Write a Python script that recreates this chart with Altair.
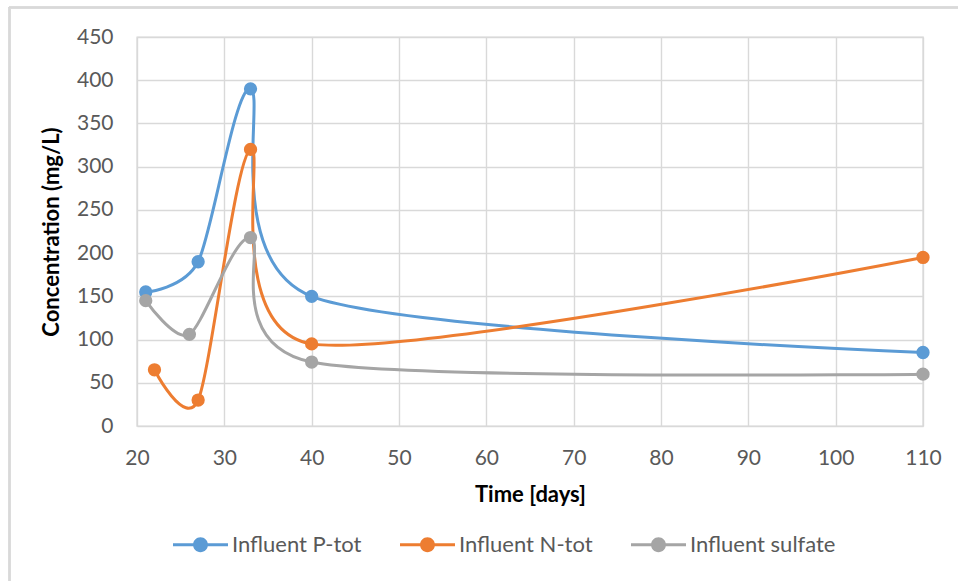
import altair as alt
import pandas as pd

# Influent concentrations over time
p_days = [21, 27, 33, 40, 110]
p_tot = [155, 190, 390, 150, 85]

n_days = [22, 27, 33, 40, 110]
n_tot = [65, 30, 320, 95, 195]

s_days = [21, 26, 33, 40, 110]
sulfate = [145, 106, 218, 74, 60]

series_names = ["Influent P-tot", "Influent N-tot", "Influent sulfate"]
series_colors = ["#5B9BD5", "#ED7D31", "#A5A5A5"]

rows = []
for name, days, vals in zip(series_names, [p_days, n_days, s_days], [p_tot, n_tot, sulfate]):
    for i, (d, v) in enumerate(zip(days, vals)):
        rows.append({"series": name, "day": d, "conc": v, "order": i})
df = pd.DataFrame(rows)

FONT = "Lato"
LABEL_FS = 21
TITLE_FS = 22
LEGEND_FS = 22
W, H = 786, 389
LEFT, TOP = 137, 37

# legend glyph: short line with a dot in the middle
legend_glyph = (
    "M-1,-0.055 H1 V0.055 H-1 Z "
    "M0.27,0 A0.27,0.27 0 1,1 -0.27,0 A0.27,0.27 0 1,1 0.27,0 Z"
)

color_scale = alt.Scale(domain=series_names, range=series_colors)

color = alt.Color(
    "series:N",
    scale=color_scale,
    legend=alt.Legend(
        title=None,
        orient="none",
        direction="horizontal",
        legendX=36,
        legendY=480,
        symbolType=legend_glyph,
        symbolSize=3025,
        symbolStrokeWidth=0,
        symbolOpacity=1,
        labelFont=FONT,
        labelFontSize=LEGEND_FS,
        labelColor="#595959",
        labelOffset=4,
        columnPadding=38,
        labelLimit=300,
    ),
)

x = alt.X(
    "day:Q",
    title="Time [days]",
    scale=alt.Scale(domain=[20, 110], nice=False, zero=False),
    axis=alt.Axis(values=list(range(20, 111, 10)), labelPadding=21, titlePadding=16, labelFlush=False),
)
y = alt.Y(
    "conc:Q",
    title="Concentration (mg/L)",
    scale=alt.Scale(domain=[0, 450], nice=False),
    axis=alt.Axis(values=list(range(0, 451, 50)), labelPadding=24, titlePadding=13, labelFlush=False),
)

base = alt.Chart(df)

lines = base.mark_line(interpolate="cardinal", tension=0.2, strokeWidth=3).encode(
    x=x, y=y, color=color, detail="series:N", order="order:Q"
)
points = base.mark_circle(size=177, opacity=1).encode(
    x=x, y=y, color=alt.Color("series:N", scale=color_scale, legend=None)
)

frame_top = alt.Chart(df).mark_rule(color="#d9d9d9", strokeWidth=1.5).encode(
    x=alt.value(9 - LEFT), x2=alt.value(958 - LEFT), y=alt.value(7.5 - TOP)
)
frame_left = alt.Chart(df).mark_rule(color="#d9d9d9", strokeWidth=1.5).encode(
    x=alt.value(9.5 - LEFT), y=alt.value(7.5 - TOP), y2=alt.value(581 - TOP)
)

chart = (
    alt.layer(frame_top, frame_left, lines, points)
    .properties(
        width=W,
        height=H,
        autosize=alt.AutoSizeParams(type="none"),
        padding={"left": LEFT, "top": TOP, "right": 958 - LEFT - W, "bottom": 581 - TOP - H},
        background="white",
    )
    .configure_view(stroke="#d9d9d9", strokeWidth=1.4)
    .configure_axis(
        grid=True,
        gridColor="#d9d9d9",
        gridWidth=1.4,
        domain=False,
        ticks=False,
        labelFont=FONT,
        labelFontSize=LABEL_FS,
        labelColor="#595959",
        titleFont=FONT,
        titleFontSize=TITLE_FS,
        titleFontWeight="bold",
        titleColor="#000000",
    )
)

chart.save("out.html", embed_options={"renderer": "svg", "actions": False})
